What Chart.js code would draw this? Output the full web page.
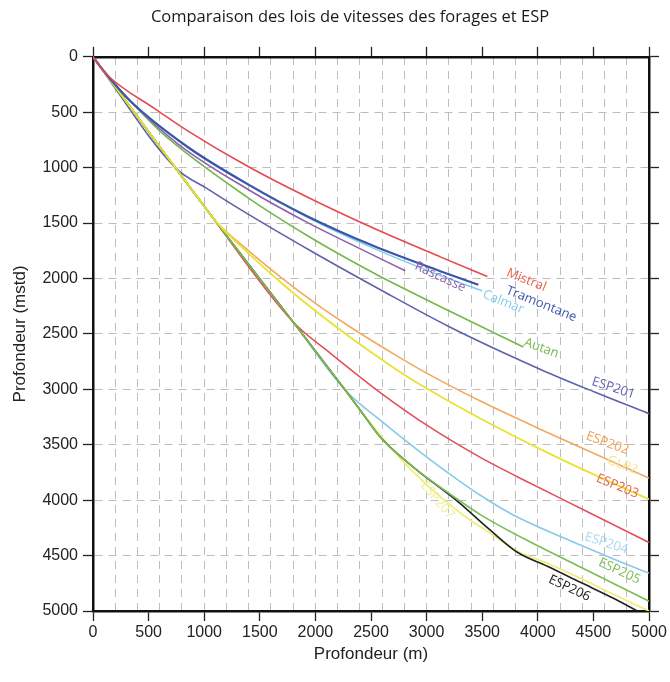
<!DOCTYPE html>
<html lang="fr">
<head>
  <meta charset="UTF-8">
  <title>Comparaison des lois de vitesses des forages et ESP</title>
  <script src="https://cdn.jsdelivr.net/npm/chart.js"></script>
  <style>
    html, body { margin: 0; padding: 0; background: #fff; }
    #wrap { width: 670px; height: 682px; }
  </style>
</head>
<body>
  <div id="wrap"><canvas id="chart" width="670" height="682"></canvas></div>

  <script>
    // Profondeur (m) en X, profondeur (mstd) en Y
    const mistralX = [0, 117, 558, 855, 1395, 1926, 2520, 3123, 3546];
    const mistralY = [0, 153, 470, 670, 990, 1265, 1545, 1805, 1982];

    const tramontaneX = [0, 117, 342, 855, 1395, 1926, 2520, 3123, 3465];
    const tramontaneY = [0, 153, 406, 816, 1151, 1438, 1705, 1934, 2057];

    const calmarX = [0, 117, 342, 855, 1395, 1926, 2520, 3123, 3500];
    const calmarY = [0, 153, 406, 820, 1155, 1447, 1726, 1973, 2112];

    const rascasseX = [0, 117, 342, 765, 1395, 1926, 2313, 2808];
    const rascasseY = [0, 153, 406, 787, 1197, 1494, 1688, 1931];

    const autanX = [0, 117, 342, 648, 1395, 1926, 2313, 2583, 3186, 3870];
    const autanY = [0, 153, 406, 712, 1272, 1612, 1836, 1982, 2284, 2619];

    const esp201X = [0, 747, 1030, 1320, 1980, 2580, 3190, 4020, 4500, 5000];
    const esp201Y = [0, 1007, 1191, 1374, 1763, 2099, 2428, 2818, 3020, 3220];

    const esp202X = [0, 1020, 1100, 1413, 1710, 2016, 2313, 2736, 3033, 3483, 4086, 4536, 5000];
    const esp202Y = [0, 1375, 1480, 1762, 2006, 2236, 2438, 2700, 2872, 3106, 3389, 3592, 3801];

    const glp2X = [0, 1020, 1100, 1413, 1710, 2016, 2313, 2736, 3033, 3483, 4086, 4536, 5000];
    const glp2Y = [0, 1375, 1480, 1787, 2054, 2305, 2531, 2827, 3011, 3263, 3571, 3783, 3992];

    const esp203X = [0, 1020, 1800, 2133, 2583, 3033, 3483, 3933, 4383, 5000];
    const esp203Y = [0, 1375, 2393, 2673, 3029, 3344, 3614, 3848, 4073, 4382];

    const esp204X = [0, 1020, 1800, 2268, 2583, 2943, 3186, 3483, 3780, 4383, 4680, 5000];
    const esp204Y = [0, 1375, 2393, 3007, 3278, 3566, 3748, 3956, 4134, 4405, 4530, 4658];

    const esp205X = [0, 1020, 1800, 2268, 2403, 2583, 2880, 3186, 3483, 3933, 4383, 4680, 5000];
    const esp205Y = [0, 1375, 2393, 3007, 3188, 3431, 3702, 3928, 4130, 4378, 4603, 4752, 4912];

    const esp206X = [0, 1020, 1800, 2268, 2403, 2583, 2880, 3276, 3573, 3816, 4086, 4383, 4680, 4896];
    const esp206Y = [0, 1375, 2393, 3007, 3188, 3431, 3702, 4009, 4271, 4470, 4596, 4741, 4885, 5000];

    const esp207X = [0, 1020, 1800, 2268, 2403, 2736, 3033, 3330, 3573, 3816, 4086, 4383, 4680, 5000];
    const esp207Y = [0, 1375, 2393, 3007, 3188, 3594, 3892, 4136, 4298, 4461, 4569, 4705, 4849, 5000];

    const xTicks = [0, 500, 1000, 1500, 2000, 2500, 3000, 3500, 4000, 4500, 5000];
    const yTicks = [0, 500, 1000, 1500, 2000, 2500, 3000, 3500, 4000, 4500, 5000];

    // du dessous vers le dessus
    const series = [
      { name: "ESP201", xs: esp201X, ys: esp201Y, color: "#5d62ab", width: 1.6 },
      { name: "ESP202", xs: esp202X, ys: esp202Y, color: "#f2a860", width: 1.6 },
      { name: "ESP203", xs: esp203X, ys: esp203Y, color: "#e2505c", width: 1.6 },
      { name: "ESP204", xs: esp204X, ys: esp204Y, color: "#86cbea", width: 1.6 },
      { name: "ESP207", xs: esp207X, ys: esp207Y, color: "#eeee7a", width: 1.8 },
      { name: "ESP206", xs: esp206X, ys: esp206Y, color: "#222222", width: 1.6 },
      { name: "ESP205", xs: esp205X, ys: esp205Y, color: "#7cbc55", width: 1.6 },
      { name: "GLP2", xs: glp2X, ys: glp2Y, color: "#e8e232", width: 1.8 },
      { name: "Autan", xs: autanX, ys: autanY, color: "#74b84a", width: 1.6 },
      { name: "Rascasse", xs: rascasseX, ys: rascasseY, color: "#8f5fae", width: 1.6 },
      { name: "Calmar", xs: calmarX, ys: calmarY, color: "#86cbea", width: 1.6 },
      { name: "Tramontane", xs: tramontaneX, ys: tramontaneY, color: "#3b55a8", width: 2.2 },
      { name: "Mistral", xs: mistralX, ys: mistralY, color: "#e5484f", width: 1.6 }
    ];

    // étiquettes posées le long des courbes (coordonnées des données, angle en degrés)
    const lineLabels = [
      { text: "Mistral", x: 3897, y: 2014, angle: 22, color: "#e8604a" },
      { text: "Tramontane", x: 4032, y: 2230, angle: 22, color: "#3b55a8" },
      { text: "Calmar", x: 3690, y: 2212, angle: 22, color: "#86cbea" },
      { text: "Rascasse", x: 3123, y: 1987, angle: 25, color: "#8f5fae" },
      { text: "Autan", x: 4032, y: 2628, angle: 20, color: "#74b84a" },
      { text: "ESP201", x: 4680, y: 2989, angle: 18, color: "#5d62ab" },
      { text: "ESP202", x: 4626, y: 3486, angle: 20, color: "#f2a050" },
      { text: "GLP2", x: 4761, y: 3684, angle: 20, color: "#f0e890" },
      { text: "ESP203", x: 4716, y: 3874, angle: 22, color: "#e8604a" },
      { text: "ESP204", x: 4617, y: 4389, angle: 18, color: "#a6d6f0" },
      { text: "ESP205", x: 4734, y: 4641, angle: 25, color: "#7cbc55" },
      { text: "ESP206", x: 4284, y: 4795, angle: 25, color: "#222222" },
      { text: "ESP207", x: 3096, y: 4000, angle: 50, color: "#eeee9a" }
    ];

    const labelPlugin = {
      id: "lineLabels",
      afterDatasetsDraw(chart) {
        const ctx = chart.ctx;
        const sx = chart.scales.x;
        const sy = chart.scales.y;
        ctx.save();
        ctx.font = "13px 'Open Sans'";
        ctx.textAlign = "center";
        ctx.textBaseline = "middle";
        lineLabels.forEach(l => {
          ctx.save();
          ctx.translate(sx.getPixelForValue(l.x), sy.getPixelForValue(l.y));
          ctx.rotate(l.angle * Math.PI / 180);
          ctx.fillStyle = l.color;
          ctx.fillText(l.text, 0, 0);
          ctx.restore();
        });
        ctx.restore();
      }
    };

    const tickFont = { family: "'Liberation Sans', Arial, sans-serif", size: 16 };
    const titleFont = { family: "'Liberation Sans', Arial, sans-serif", size: 17 };
    const dash = [8, 6];
    const gridColor = "#bdbdbd";

    const datasets = series.map((s, i) => ({
      label: s.name,
      data: s.xs.map((x, k) => ({ x: x, y: s.ys[k] })),
      borderColor: s.color,
      borderWidth: s.width,
      pointRadius: 0,
      cubicInterpolationMode: "monotone",
      fill: false,
      order: -i
    }));

    const tickValues = list => scale => {
      scale.ticks = list.map(v => ({ value: v }));
    };
    const plain = v => String(v);

    new Chart(document.getElementById("chart"), {
      type: "line",
      data: { datasets: datasets },
      plugins: [labelPlugin],
      options: {
        responsive: false,
        animation: false,
        layout: { padding: { left: 0, right: -30, top: 0, bottom: 0 } },
        plugins: {
          legend: { display: false },
          tooltip: { enabled: false },
          title: {
            display: true,
            text: "Comparaison des lois de vitesses des forages et ESP",
            color: "#1a1a1a",
            font: { family: "'Open Sans', sans-serif", size: 16.5, weight: "normal" },
            padding: { top: 7, bottom: 7 }
          }
        },
        scales: {
          x: {
            type: "linear", position: "bottom", min: 0, max: 5000,
            afterBuildTicks: tickValues(xTicks),
            afterFit: s => { s.height = 71; },
            ticks: { font: tickFont, color: "#222", padding: 2, maxRotation: 0, callback: plain },
            grid: { drawOnChartArea: false, tickLength: 10, tickColor: "#222", tickWidth: 1.3 },
            border: { color: "#111", width: 2.5 },
            title: { display: true, text: "Profondeur (m)", font: titleFont, color: "#222", padding: { top: 0, bottom: 17 } }
          },
          xt: {
            type: "linear", position: "top", min: 0, max: 5000,
            afterBuildTicks: tickValues(xTicks),
            afterFit: s => { s.height = 23; },
            ticks: { display: false },
            grid: { drawOnChartArea: false, tickLength: 10, tickColor: "#222", tickWidth: 1.3 },
            border: { color: "#111", width: 2.5 }
          },
          xg: {
            type: "linear", position: "top", min: 0, max: 5000,
            afterFit: s => { s.height = 0; },
            ticks: { display: false, stepSize: 200 },
            grid: { drawOnChartArea: true, drawTicks: false, color: gridColor, lineWidth: 1 },
            border: { display: false, dash: dash }
          },
          y: {
            type: "linear", position: "left", reverse: true, min: 0, max: 5000,
            afterBuildTicks: tickValues(yTicks),
            afterFit: s => { s.width = 93; },
            ticks: { font: tickFont, color: "#222", padding: 5, callback: plain },
            grid: { drawOnChartArea: true, color: gridColor, lineWidth: 1, tickLength: 10, tickColor: "#222", tickWidth: 1.3, tickBorderDash: [] },
            border: { color: "#111", width: 2.5, dash: dash },
            title: { display: true, text: "Profondeur (mstd)", font: titleFont, color: "#222", padding: { top: 10, bottom: 0 } }
          },
          yr: {
            type: "linear", position: "right", reverse: true, min: 0, max: 5000,
            afterBuildTicks: tickValues(yTicks),
            afterFit: s => { s.width = 51; },
            ticks: { display: false },
            grid: { drawOnChartArea: false, tickLength: 10, tickColor: "#222", tickWidth: 1.3 },
            border: { color: "#111", width: 2.5 }
          }
        }
      }
    });
  </script>
</body>
</html>
